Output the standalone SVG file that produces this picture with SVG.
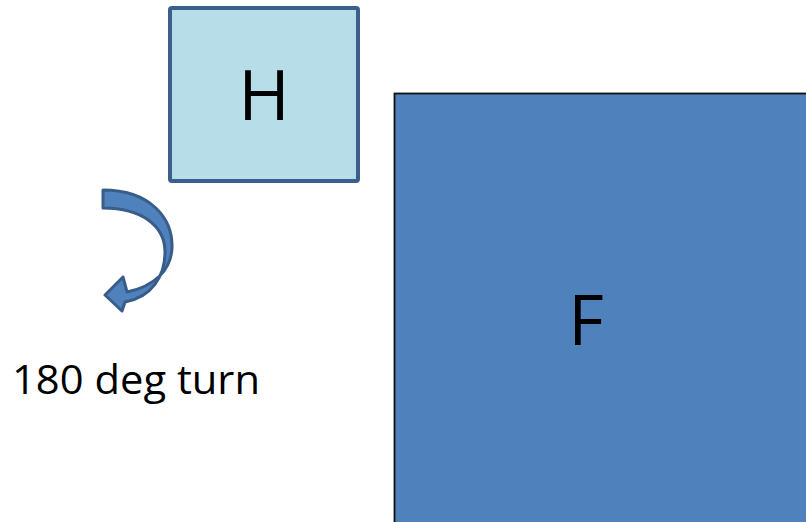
<svg xmlns="http://www.w3.org/2000/svg" width="806" height="522" viewBox="0 0 806 522">
<style>
.lbl{font-family:"Open Sans","Liberation Sans",sans-serif;fill:#000}
</style>
<rect width="806" height="522" fill="#fff"/>
<g id="node-H">
<rect x="170" y="8" width="188" height="173" rx="2" fill="#b7dde8" stroke="#3a5f8b" stroke-width="4"/>
<text class="lbl" x="264" y="120" font-size="70" text-anchor="middle">H</text>
</g>
<g id="node-F">
<rect x="394.5" y="93.5" width="430" height="450" fill="#4f81bd" stroke="#111" stroke-width="1.8"/>
<text class="lbl" x="586" y="345" font-size="69" text-anchor="middle">F</text>
</g>
<g id="connectors">
<path d="M103,190 C150,190 173,218 172,248 C171,270 155,286 127,292 L123,277 L105,295 L122,311 L125,302 C152,297 165,276 165,252 C165,226 142,208 103,208 Z" fill="#4f81bd" stroke="#385d8a" stroke-width="3" stroke-linejoin="round"/>
</g>
<text class="lbl" x="12" y="394" font-size="41" textLength="248" lengthAdjust="spacingAndGlyphs">180 deg turn</text>
</svg>
